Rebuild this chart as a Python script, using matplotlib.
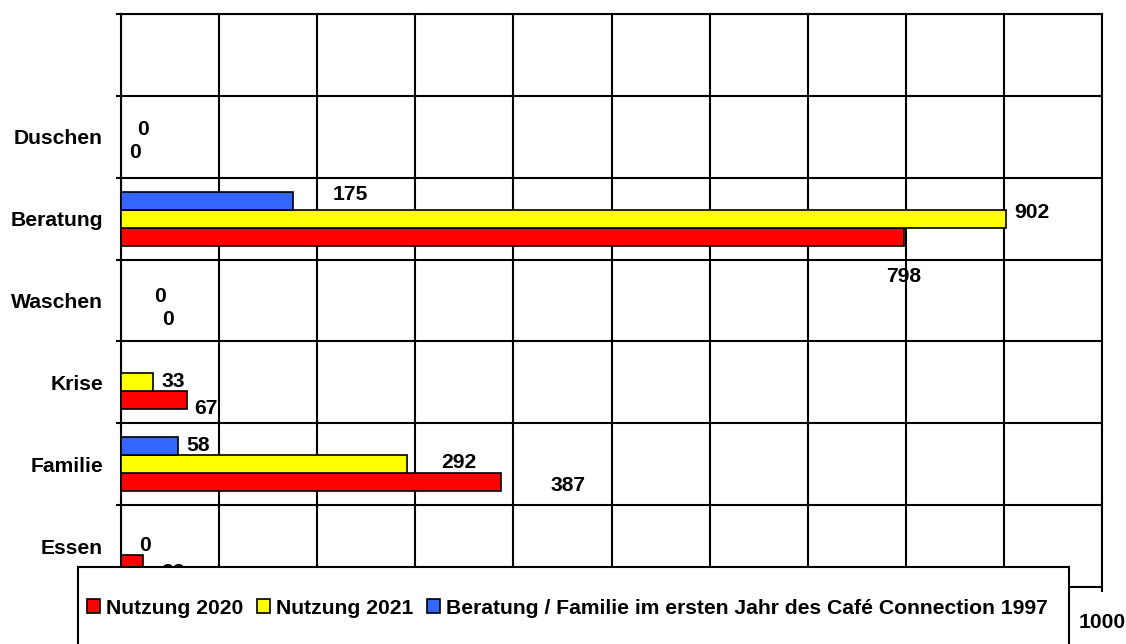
import numpy as np
import matplotlib.pyplot as plt
from matplotlib.patches import Rectangle

plt.rcParams['font.family'] = ['Liberation Sans', 'DejaVu Sans']
plt.rcParams['font.weight'] = 'bold'

# ==========================
# Data (bottom to top)
# ==========================
categories = ["Essen", "Familie", "Krise", "Waschen", "Beratung", "Duschen", ""]
nutzung_2020 = [22, 387, 67, 0, 798, 0, None]
nutzung_2021 = [0, 292, 33, 0, 902, 0, None]
beratung_1997 = [None, 58, None, None, 175, None, None]

series_names = ["Nutzung 2020", "Nutzung 2021",
                "Beratung / Familie im ersten Jahr des Café Connection 1997"]
colors = ["#FF0000", "#FFFF00", "#3366FF"]

# label offsets in pixels (dx, dy) from the bar end, per series and category
label_off_2020 = [(30, -8), (67, -3), (19, -8), (47, -1), (0, -40), (14, 2), None]
label_off_2021 = [(24, 1), (51, 2), (20, 1), (39, 4), (26, 6), (22, 7), None]
label_off_1997 = [None, (20, 1), None, None, (58, 6), None, None]

xticks = np.arange(0, 1001, 100)
# only the last axis label sits outside the legend box
xtick_labels = ["", "", "", "", "", "", "", "", "", "", "1000"]

FS = 15.2

# ==========================
# Plot setup
# ==========================
fig = plt.figure(figsize=(11.26, 6.44), dpi=100)
ax = fig.add_axes([121/1126, 57/644, 981/1126, 573/644])

y = np.arange(len(categories))
h = 0.22
px = 0.72  # pixel -> points at 100 dpi

groups = [
    (nutzung_2020, +h, colors[0], label_off_2020),
    (nutzung_2021, 0.0, colors[1], label_off_2021),
    (beratung_1997, -h, colors[2], label_off_1997),
]

for vals, off, col, offs in groups:
    for i, v in enumerate(vals):
        if v is None:
            continue
        yy = y[i] - off
        if v > 0:
            ax.barh(yy, v, height=h, color=col, edgecolor='black',
                    linewidth=1.2, zorder=3)
        dx, dy = offs[i]
        ax.annotate(str(v), (v, yy), xytext=(dx*px, dy*px),
                    textcoords='offset points', ha='center', va='center',
                    fontsize=FS, fontweight='bold', zorder=4)

ax.set_xlim(0, 1000)
ax.set_ylim(-0.5, len(categories) - 0.5)
ax.set_xticks(xticks)
ax.set_xticklabels(xtick_labels, fontsize=FS, fontweight='bold')
ax.set_yticks(y)
ax.set_yticklabels(categories, fontsize=FS, fontweight='bold')
ax.set_yticks(np.arange(-0.5, len(categories)), minor=True)

ax.tick_params(axis='y', which='major', length=0, pad=13)
ax.tick_params(axis='y', which='minor', length=3.6, width=1.5, direction='out')
ax.tick_params(axis='x', which='major', length=3.6, width=1.5, pad=15)

ax.grid(True, axis='x', which='major', color='black', linewidth=1.5, zorder=1)
ax.grid(True, axis='y', which='minor', color='black', linewidth=1.5, zorder=1)
ax.set_axisbelow(True)
for s in ax.spines.values():
    s.set_linewidth(1.5)
    s.set_color('black')

# ==========================
# Legend box (covers lower part of chart)
# ==========================
box = Rectangle((78/1126, -0.05), 991/1126, 77/644 + 0.05,
                transform=fig.transFigure, facecolor='white',
                edgecolor='black', linewidth=1.5, zorder=5)
fig.patches.append(box)

handles = [Rectangle((0, 0), 1, 1, facecolor=c, edgecolor='black', linewidth=1.2)
           for c in colors]
leg = fig.legend(handles, series_names, loc='center left',
                 bbox_to_anchor=(87/1126, 36/644), ncol=3, frameon=False,
                 prop={'size': FS, 'weight': 'bold'},
                 handlelength=0.6, handleheight=0.6, handletextpad=0.3,
                 columnspacing=0.65, borderpad=0, borderaxespad=0)
leg.set_zorder(6)

fig.savefig("out.png", dpi=100)
